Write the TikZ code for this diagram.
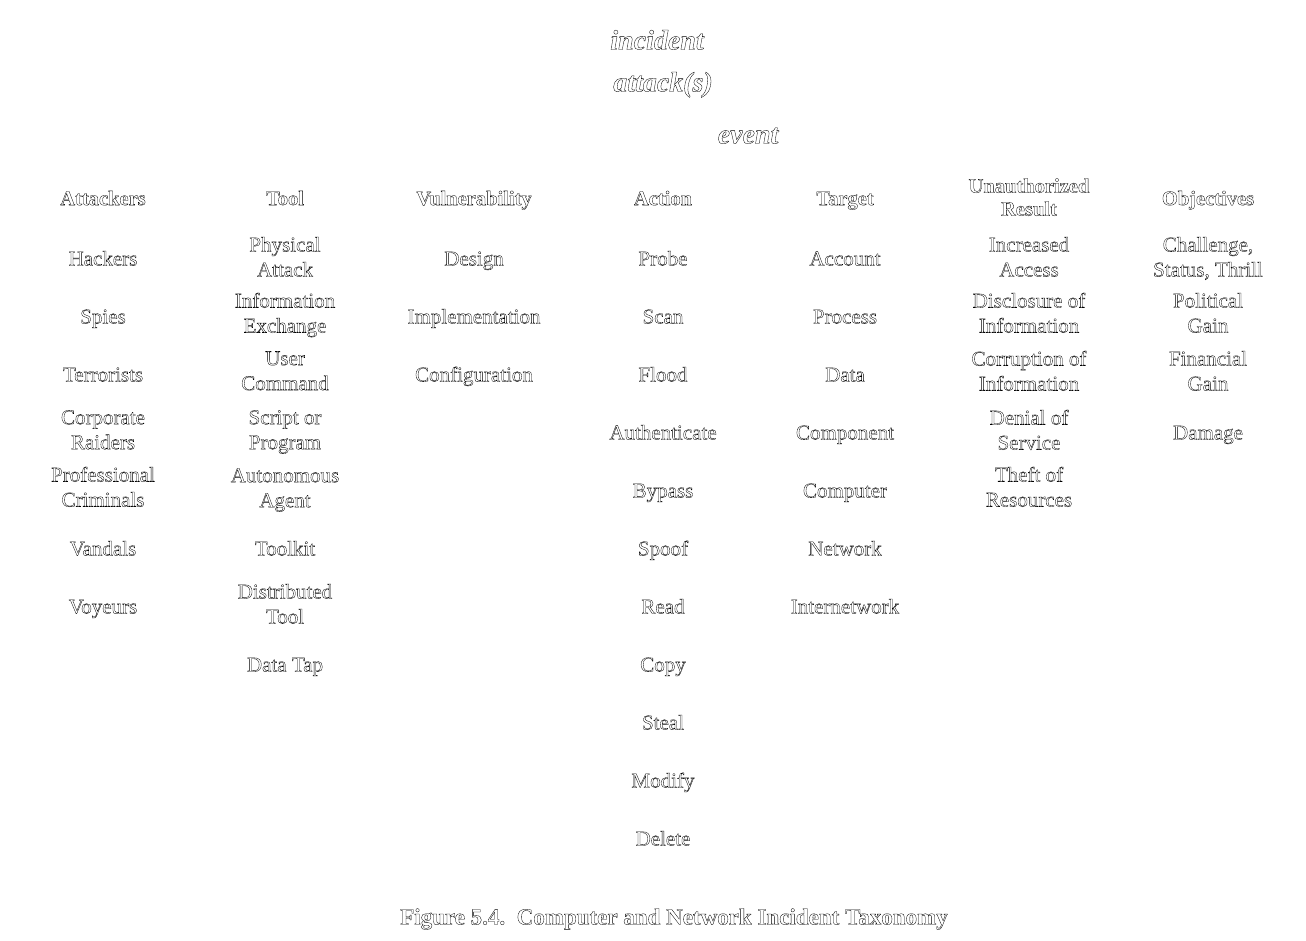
\documentclass[tikz,border=0pt]{standalone}
\usepackage{fontspec}
\setmainfont{Liberation Serif}
\newcommand\outl{\special{pdf:code 1 Tr 0.32 w}}
\tikzset{
  item/.style={align=center,inner sep=0pt,font=\outl\fontsize{21pt}{25pt}\selectfont,
    execute at begin node=\strut, execute at end node=\strut},
  head/.style={align=center,inner sep=0pt,font=\outl\fontsize{20.5pt}{23pt}\selectfont\bfseries,
    execute at begin node=\strut, execute at end node=\strut},
  top/.style={inner sep=0pt,font=\outl\fontsize{28pt}{30pt}\selectfont\bfseries\itshape,
    execute at begin node=\strut},
  capt/.style={inner sep=0pt,font=\outl\fontsize{23pt}{25pt}\selectfont\bfseries,
    execute at begin node=\strut}
}
\begin{document}
\begin{tikzpicture}[x=1pt,y=-1pt]
\useasboundingbox (0,0) rectangle (1306,940);
\begin{scope}[yshift=-1.5pt]
% top labels
\node[top] (incident) at (657,42) {incident};
\node[top] (attack) at (663,84) {attack(s)};
\node[top] (event) at (748,136) {event};
% headers
\node[head] (hA) at (103,199) {Attackers};
\node[head] (hT) at (285,199) {Tool};
\node[head] (hV) at (474,199) {Vulnerability};
\node[head] (hC) at (663,199) {Action};
\node[head] (hG) at (845,199) {Target};
\node[head] (hU) at (1029,199) {Unauthorized\\Result};
\node[head] (hO) at (1208,199) {Objectives};
% Attackers
\node[item] (a1) at (103,259) {Hackers};
\node[item] (a2) at (103,317) {Spies};
\node[item] (a3) at (103,375) {Terrorists};
\node[item] (a4) at (103,432) {Corporate\\Raiders};
\node[item] (a5) at (103,489) {Professional\\Criminals};
\node[item] (a6) at (103,549) {Vandals};
\node[item] (a7) at (103,607) {Voyeurs};
% Tool
\node[item] (t1) at (285,259) {Physical\\Attack};
\node[item] (t2) at (285,315) {Information\\Exchange};
\node[item] (t3) at (285,373) {User\\Command};
\node[item] (t4) at (285,432) {Script or\\Program};
\node[item] (t5) at (285,490) {Autonomous\\Agent};
\node[item] (t6) at (285,549) {Toolkit};
\node[item] (t7) at (285,606) {Distributed\\Tool};
\node[item] (t8) at (285,665) {Data Tap};
% Vulnerability
\node[item] (v1) at (474,259) {Design};
\node[item] (v2) at (474,317) {Implementation};
\node[item] (v3) at (474,375) {Configuration};
% Action
\node[item] (c1) at (663,259) {Probe};
\node[item] (c2) at (663,317) {Scan};
\node[item] (c3) at (663,375) {Flood};
\node[item] (c4) at (663,433) {Authenticate};
\node[item] (c5) at (663,491) {Bypass};
\node[item] (c6) at (663,549) {Spoof};
\node[item] (c7) at (663,607) {Read};
\node[item] (c8) at (663,665) {Copy};
\node[item] (c9) at (663,723) {Steal};
\node[item] (c10) at (663,781) {Modify};
\node[item] (c11) at (663,839) {Delete};
% Target
\node[item] (g1) at (845,259) {Account};
\node[item] (g2) at (845,317) {Process};
\node[item] (g3) at (845,375) {Data};
\node[item] (g4) at (845,433) {Component};
\node[item] (g5) at (845,491) {Computer};
\node[item] (g6) at (845,549) {Network};
\node[item] (g7) at (845,607) {Internetwork};
% Unauthorized Result
\node[item] (u1) at (1029,259) {Increased\\Access};
\node[item] (u2) at (1029,315) {Disclosure of\\Information};
\node[item] (u3) at (1029,373) {Corruption of\\Information};
\node[item] (u4) at (1029,432) {Denial of\\Service};
\node[item] (u5) at (1029,489) {Theft of\\Resources};
% Objectives
\node[item] (o1) at (1208,259) {Challenge,\\Status, Thrill};
\node[item] (o2) at (1208,315) {Political\\Gain};
\node[item] (o3) at (1208,373) {Financial\\Gain};
\node[item] (o4) at (1208,433) {Damage};
% caption
\node[capt] (cap) at (674,918) {Figure 5.4.\ \ Computer and Network Incident Taxonomy};
\end{scope}
\end{tikzpicture}
\end{document}
